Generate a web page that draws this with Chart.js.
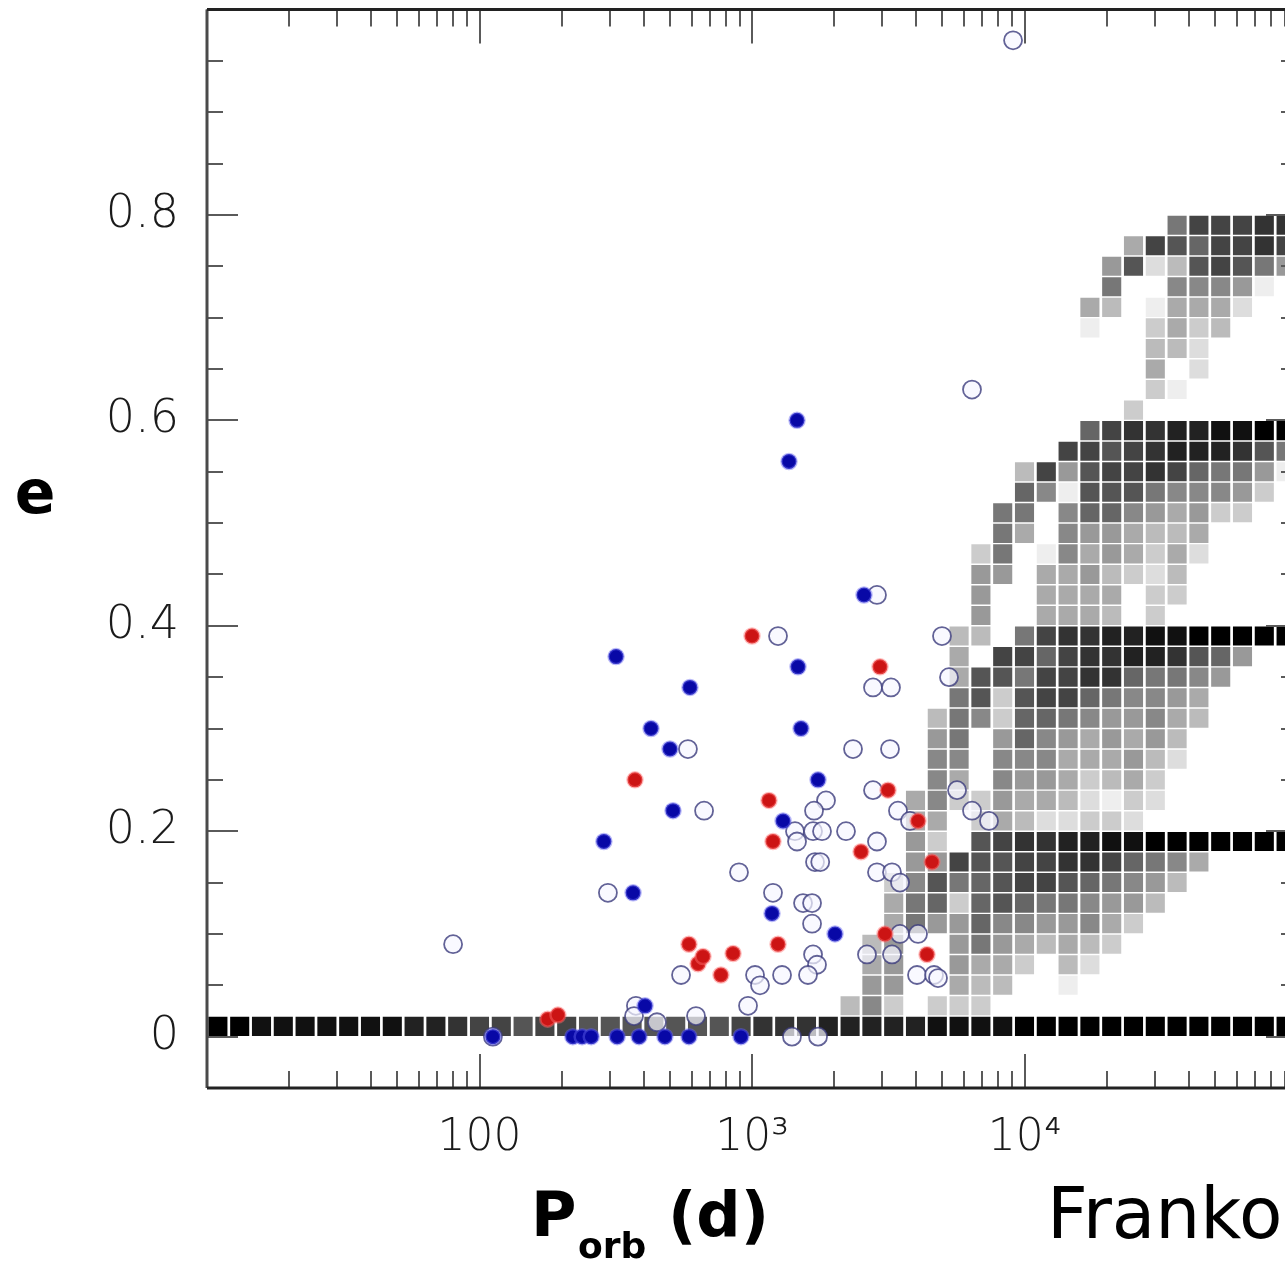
<!DOCTYPE html>
<html>
<head>
<meta charset="utf-8">
<script src="https://cdn.jsdelivr.net/npm/chart.js@4.4.1/dist/chart.umd.min.js"></script>
<style>
    html, body { margin: 0; padding: 0; background: #fff; overflow: hidden; }
    #quadro { width: 1320px; height: 1269px; margin-top: -4px; }
</style>
</head>
<body>
<div id="quadro"><canvas id="grafico" width="1320" height="1269"></canvas></div>
<script>
// Binárias observadas: período orbital (dias) e excentricidade
const azulCheioP = [1463, 1367, 2576, 317, 1475, 592, 426, 1513, 500, 1747, 513, 286, 1300, 366, 1184, 2017, 405,
    112, 220, 238, 257, 320, 385, 479, 587, 911];
const azulCheioE = [0.60, 0.56, 0.43, 0.37, 0.36, 0.34, 0.30, 0.30, 0.28, 0.25, 0.22, 0.19, 0.21, 0.14, 0.12, 0.10, 0.03,
    0, 0, 0, 0, 0, 0, 0, 0, 0];

const vermelhoP = [1000, 372, 2949, 1154, 1194, 3156, 4067, 2512, 4577, 3077, 4387, 1246, 587, 634, 661, 852, 769, 178, 194];
const vermelhoE = [0.39, 0.25, 0.36, 0.23, 0.19, 0.24, 0.21, 0.18, 0.17, 0.10, 0.08, 0.09, 0.09, 0.071, 0.078, 0.081, 0.06, 0.017, 0.021];

const azulVazioP = [9078, 6417, 2875, 1246, 4980, 5283, 2780, 3236, 582, 2348, 3209, 2780, 5655, 6417, 7408, 3433, 3800,
    1869, 1689, 1438, 1463, 1675, 1807, 2213, 667, 2875, 1703, 1780, 2875, 3264, 3492, 896, 1194, 296, 1539, 1661,
    1661, 3492, 4067, 2642, 3264, 1675, 1732, 1605, 1289, 1026, 1070, 4032, 4655, 4815, 967, 1402, 1747, 80, 112,
    549, 623, 375, 369, 448];
const azulVazioE = [0.97, 0.63, 0.43, 0.39, 0.39, 0.35, 0.34, 0.34, 0.28, 0.28, 0.28, 0.24, 0.24, 0.22, 0.21, 0.22, 0.21,
    0.23, 0.22, 0.20, 0.19, 0.20, 0.20, 0.20, 0.22, 0.19, 0.17, 0.17, 0.16, 0.16, 0.15, 0.16, 0.14, 0.14, 0.13, 0.13,
    0.11, 0.10, 0.10, 0.08, 0.08, 0.08, 0.07, 0.06, 0.06, 0.06, 0.05, 0.06, 0.06, 0.057, 0.03, 0, 0, 0.09, 0,
    0.06, 0.02, 0.03, 0.02, 0.014];

// Modelo: grade em log P (passo 0.08 a partir de log P = 1) e e (passo 0.02)
const logPInicio = 1.0;
const logPPasso = 0.08;
const ePasso = 0.02;
// cada linha: primeira coluna e tons em hexadecimal (0 = preto, f = branco, '.' = vazio)
const linhaInicio = [0, 29, 30, 30, 30, 31, 31, 31, 32, 32,
    32, 32, 33, 33, 33, 33, 34, 34, 34, 34,
    35, 35, 35, 35, 36, 36, 37, 37, 39, 40,
    42, 43, 43, 43, 40, 40, 41, 41, 42, 44];
const linhaTons = [
    '00111111122344544555555543332222211110000000000000',
    'b8c.ccc',
    '99..abb..e',
    'a9..9aac.bd',
    'b9..979ababc',
    'a799688998ac',
    'a76c65677899b',
    'c857654456789b',
    '9945544334678a',
    '9c.543322110000000',
    'aa.cabddccd',
    'a8cc9aabdecd',
    '8a.899acbac',
    '88.888aaa9bd',
    '97.9689a9a9b',
    'b78c6678998ab',
    '75c54467889a',
    'a557443367789',
    'a.446433223569',
    'bb.7433221100000',
    '9..aaab.c',
    '9..aaaa.cc',
    '99.aa9bcdb',
    'c7.e8a9acad',
    '7a.899abba',
    '77.86689a9cc',
    '68e55578889c',
    'b49544346779e',
    '44543222357',
    '6433221100',
    'c',
    'ce',
    'a.d',
    'bbd',
    'e..cacb',
    'ab.eaaad',
    '7..8889e',
    '95db54579',
    'a4564434',
    '744433'
];

// Marcas dos eixos
const marcasX = [10, 20, 30, 40, 50, 60, 70, 80, 90,
    100, 200, 300, 400, 500, 600, 700, 800, 900,
    1000, 2000, 3000, 4000, 5000, 6000, 7000, 8000, 9000,
    10000, 20000, 30000, 40000, 50000, 60000, 70000, 80000, 90000, 100000];
const valoresRotuloX = [100, 1000, 10000];
const textosRotuloX = ['100', '10\u00b3', '10\u2074'];
const marcasY = [-0.05, 0, 0.05, 0.1, 0.15, 0.2, 0.25, 0.3, 0.35, 0.4, 0.45, 0.5,
    0.55, 0.6, 0.65, 0.7, 0.75, 0.8, 0.85, 0.9, 0.95, 1.0];
const valoresRotuloY = [0, 0.2, 0.4, 0.6, 0.8];
const textosRotuloY = ['0', '0.2', '0.4', '0.6', '0.8'];

function juntar(px, py) {
    return px.map((p, i) => ({ x: p, y: py[i] }));
}

// monta as células da grade a partir das linhas
const celulas = [];
const coresCelulas = [];
linhaTons.forEach((tons, linha) => {
    for (let j = 0; j < tons.length; j++) {
        const c = tons[j];
        if (c === '.') continue;
        const coluna = linhaInicio[linha] + j;
        const g = parseInt(c, 16) * 17;
        celulas.push({
            x: Math.pow(10, logPInicio + (coluna + 0.5) * logPPasso),
            y: (linha + 0.5) * ePasso
        });
        coresCelulas.push(`rgb(${g}, ${g}, ${g})`);
    }
});

function achaRotulo(v, valores, textos) {
    for (let i = 0; i < valores.length; i++) {
        if (Math.abs(v - valores[i]) < 1e-6 * Math.max(1, valores[i])) return textos[i];
    }
    return '';
}

const fonteRotulo = 'DejaVu Sans';

// moldura e marcas internas, desenhadas por cima
const moldura = {
    id: 'moldura',
    afterDatasetsDraw(chart) {
        const ctx = chart.ctx;
        const a = chart.chartArea;
        const x = chart.scales.x;
        const y = chart.scales.y;
        ctx.save();
        ctx.strokeStyle = '#5a5a5a';
        ctx.lineWidth = 2;
        ctx.beginPath();
        marcasY.forEach(v => {
            const py = Math.round(y.getPixelForValue(v));
            const len = achaRotulo(v, valoresRotuloY, textosRotuloY) !== '' ? 31 : 16;
            ctx.moveTo(a.left, py); ctx.lineTo(a.left + len, py);
            ctx.moveTo(a.right, py); ctx.lineTo(a.right - len, py);
        });
        marcasX.forEach(v => {
            const px = Math.round(x.getPixelForValue(v));
            const lg = Math.log10(v);
            const len = Math.abs(lg - Math.round(lg)) < 1e-9 ? 34 : 17;
            ctx.moveTo(px, a.bottom); ctx.lineTo(px, a.bottom - len);
            ctx.moveTo(px, a.top); ctx.lineTo(px, a.top + len);
        });
        ctx.stroke();

        // eixo esquerdo cinza, topo e base escuros
        ctx.strokeStyle = '#4a4a4a';
        ctx.lineWidth = 3;
        ctx.beginPath();
        ctx.moveTo(a.left, a.top); ctx.lineTo(a.left, a.bottom);
        ctx.moveTo(a.right, a.top); ctx.lineTo(a.right, a.bottom);
        ctx.stroke();
        ctx.strokeStyle = '#222';
        ctx.beginPath();
        ctx.moveTo(a.left, a.top); ctx.lineTo(a.right, a.top);
        ctx.moveTo(a.left, a.bottom); ctx.lineTo(a.right, a.bottom);
        ctx.stroke();
        ctx.restore();
    },
    afterDraw(chart) {
        const ctx = chart.ctx;
        ctx.save();
        ctx.fillStyle = '#000';
        ctx.textBaseline = 'alphabetic';
        ctx.textAlign = 'center';
        ctx.font = 'bold 60px "DejaVu Sans"';
        ctx.fillText('e', 35, 517);
        ctx.textAlign = 'left';
        ctx.font = 'bold 62px "DejaVu Sans"';
        ctx.fillText('P', 531, 1240);
        ctx.fillText('(d)', 668, 1240);
        ctx.font = 'bold 36px "DejaVu Sans"';
        ctx.fillText('orb', 578, 1262);
        ctx.font = '71px "DejaVu Sans"';
        ctx.fillText('Franko', 1047, 1242);
        ctx.restore();
    }
};

const ctx = document.getElementById('grafico').getContext('2d');
new Chart(ctx, {
    type: 'scatter',
    data: {
        datasets: [{
            label: 'grade',
            data: celulas,
            pointStyle: 'rect',
            pointRadius: 13.5,
            backgroundColor: coresCelulas,
            borderWidth: 0,
            order: 4
        }, {
            label: 'azul vazio',
            data: juntar(azulVazioP, azulVazioE),
            pointRadius: 9,
            backgroundColor: 'rgba(246, 246, 255, 0.7)',
            borderColor: 'rgba(60, 60, 125, 0.8)',
            borderWidth: 1.8,
            order: 3
        }, {
            label: 'vermelho',
            data: juntar(vermelhoP, vermelhoE),
            pointRadius: 7.5,
            backgroundColor: '#cc1414',
            borderColor: 'rgba(255, 110, 110, 0.45)',
            borderWidth: 2.5,
            order: 2
        }, {
            label: 'azul cheio',
            data: juntar(azulCheioP, azulCheioE),
            pointRadius: 7.5,
            backgroundColor: '#0808a6',
            borderColor: 'rgba(100, 100, 240, 0.45)',
            borderWidth: 2.5,
            order: 1
        }]
    },
    options: {
        responsive: false,
        animation: false,
        events: [],
        layout: { padding: { top: 5, right: 23, left: 0, bottom: 0 } },
        plugins: {
            legend: { display: false },
            tooltip: { enabled: false }
        },
        scales: {
            x: {
                type: 'logarithmic',
                min: 10,
                max: 100000,
                grid: { display: false },
                border: { display: false },
                afterBuildTicks: scale => { scale.ticks = marcasX.map(v => ({ value: v })); },
                afterFit: scale => {
                    scale.height = 177;
                    scale.paddingLeft = 0;
                    scale.paddingRight = 0;
                },
                ticks: {
                    autoSkip: false,
                    maxRotation: 0,
                    minRotation: 0,
                    padding: 16,
                    color: '#1a1a1a',
                    font: { family: fonteRotulo, size: 44, weight: 200 },
                    callback: v => achaRotulo(v, valoresRotuloX, textosRotuloX)
                }
            },
            y: {
                min: -0.05,
                max: 1.0,
                grid: { display: false },
                border: { display: false },
                afterBuildTicks: scale => { scale.ticks = marcasY.map(v => ({ value: v })); },
                afterFit: scale => {
                    scale.width = 207;
                    scale.paddingTop = 0;
                    scale.paddingBottom = 0;
                },
                ticks: {
                    autoSkip: false,
                    padding: 20,
                    color: '#1a1a1a',
                    font: { family: fonteRotulo, size: 46, weight: 200 },
                    callback: v => achaRotulo(v, valoresRotuloY, textosRotuloY)
                }
            }
        }
    },
    plugins: [moldura]
});
</script>
</body>
</html>
